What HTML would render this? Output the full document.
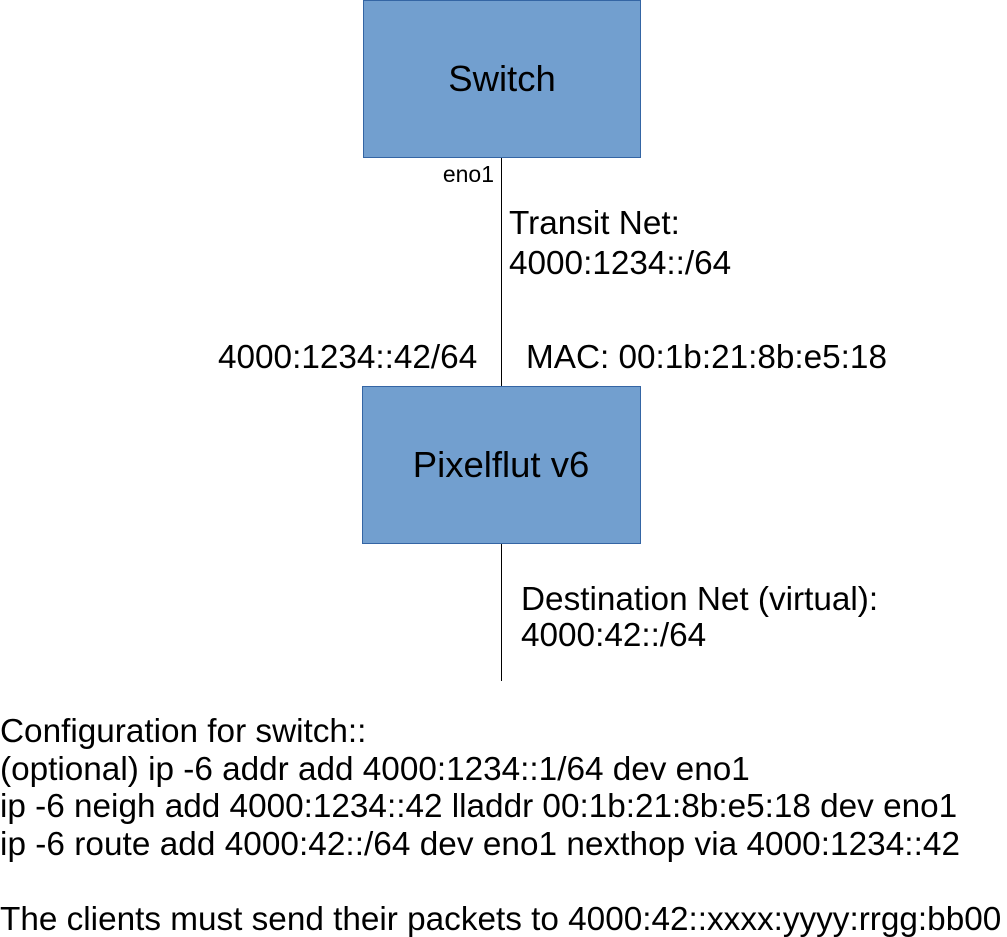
<!DOCTYPE html>
<html><head><style>body{margin:0;background:#fff}svg{display:block}</style></head><body>
<svg width="1007" height="937" xmlns="http://www.w3.org/2000/svg" font-family="Liberation Sans, sans-serif" fill="#000">
<rect x="363.5" y="0.5" width="277" height="157" fill="#729fcf" stroke="#3465a4"/>
<rect x="362.5" y="386.5" width="278" height="157" fill="#729fcf" stroke="#3465a4"/>
<line x1="501.5" y1="158" x2="501.5" y2="386" stroke="#000"/>
<line x1="501.5" y1="544" x2="501.5" y2="681" stroke="#000"/>
<text x="502" y="91" font-size="36.5" text-anchor="middle">Switch</text>
<text x="501" y="477" font-size="36.5" text-anchor="middle">Pixelflut v6</text>
<text x="494" y="182" font-size="23" text-anchor="end">eno1</text>
<g font-size="33.3">
<text x="509" y="234">Transit Net:</text>
<text x="509" y="274">4000:1234::/64</text>
<text x="218" y="368">4000:1234::42/64</text>
<text x="526" y="368">MAC: 00:1b:21:8b:e5:18</text>
<text x="521" y="610">Destination Net (virtual):</text>
<text x="521" y="646">4000:42::/64</text>
<text x="0" y="742">Configuration for switch::</text>
<text x="0" y="780">(optional) ip -6 addr add 4000:1234::1/64 dev eno1</text>
<text x="0" y="817">ip -6 neigh add 4000:1234::42 lladdr 00:1b:21:8b:e5:18 dev eno1</text>
<text x="0" y="855" textLength="960">ip -6 route add 4000:42::/64 dev eno1 nexthop via 4000:1234::42</text>
<text x="0" y="930">The clients must send their packets to 4000:42::xxxx:yyyy:rrgg:bb00</text>
</g>
</svg>
</body></html>
